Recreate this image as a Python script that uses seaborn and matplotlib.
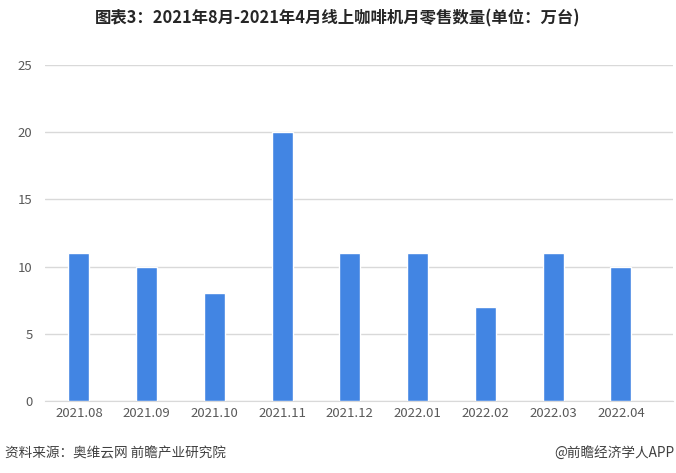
import matplotlib
matplotlib.use("Agg")
import matplotlib.pyplot as plt
import seaborn as sns
import pandas as pd

months = ["2021.08", "2021.09", "2021.10", "2021.11", "2021.12",
          "2022.01", "2022.02", "2022.03", "2022.04"]
sales = [11, 10, 8, 20, 11, 11, 7, 11, 10]
yticks = [0, 5, 10, 15, 20, 25]

df = pd.DataFrame({"month": months, "sales": sales})

sns.set_style("white")
plt.rcParams["font.family"] = ["Noto Sans CJK SC", "DejaVu Sans"]

fig = plt.figure(figsize=(6.76, 4.73), dpi=100)
ax = fig.add_axes([0.0666, 0.152, 0.929, 0.711])

sns.barplot(data=df, x="month", y="sales", color="#4285E3", width=0.31,
            saturation=1, ax=ax, zorder=3)

ax.set_ylim(0, 25)
ax.set_yticks(yticks)
ax.set_xlim(-0.5, len(months) - 0.23)
ax.yaxis.grid(True, color="#d9d9d9", linewidth=1, zorder=0)
ax.set_xlabel("")
ax.set_ylabel("")
for s in ["top", "right", "left"]:
    ax.spines[s].set_visible(False)
ax.spines["bottom"].set_color("#d9d9d9")
ax.tick_params(axis="both", length=0, labelsize=9.5, colors="#595959")
ax.tick_params(axis="y", pad=9)
ax.tick_params(axis="x", pad=4)

fig.text(0.5, 0.962, "图表3：2021年8月-2021年4月线上咖啡机月零售数量(单位：万台)",
         ha="center", va="center", fontsize=11.8, fontweight="bold", color="#262626")
fig.text(0.008, 0.042, "资料来源：奥维云网 前瞻产业研究院",
         ha="left", va="center", fontsize=9.8, color="#404040")
fig.text(0.998, 0.042, "@前瞻经济学人APP",
         ha="right", va="center", fontsize=9.8, color="#404040")

fig.savefig("out.png", dpi=100)
